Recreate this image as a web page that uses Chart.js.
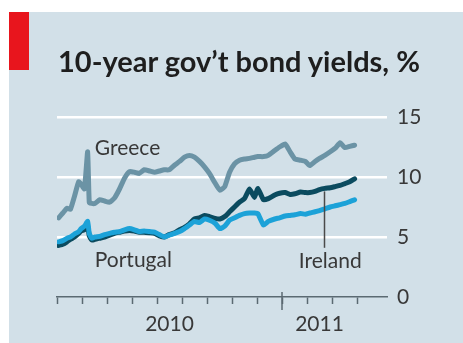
<!DOCTYPE html>
<html>
<head>
<meta charset="utf-8">
<script src="https://cdn.jsdelivr.net/npm/chart.js@4.4.1/dist/chart.umd.min.js"></script>
<style>
html,body{margin:0;padding:0;background:#fff;width:463px;height:343px;overflow:hidden;}
#bg{position:absolute;left:9px;top:12px;width:454px;height:331px;background:#d2e0e8;}
#bar{position:absolute;left:9px;top:12px;width:20px;height:58px;background:#e8151d;}
#title{position:absolute;left:58px;top:46px;font-family:Lato,"Open Sans",sans-serif;font-weight:bold;font-size:29px;line-height:29px;color:#1e1e1e;white-space:nowrap;}
#c{position:absolute;left:0;top:0;}
</style>
</head>
<body>
<div id="bg"></div>
<div id="bar"></div>
<canvas id="c" width="463" height="343"></canvas>
<div id="title">10-year gov’t bond yields, %</div>
<script>
// ---- data ----
const dates = [
 "2010-04-03","2010-04-08","2010-04-13","2010-04-17","2010-04-22","2010-04-27","2010-04-30",
 "2010-05-04","2010-05-08","2010-05-10","2010-05-13","2010-05-17","2010-05-23","2010-05-29",
 "2010-06-04","2010-06-10","2010-06-16","2010-06-22","2010-06-28",
 "2010-07-04","2010-07-10","2010-07-16","2010-07-23","2010-07-29",
 "2010-08-04","2010-08-10","2010-08-16","2010-08-23","2010-08-29",
 "2010-09-04","2010-09-10","2010-09-16","2010-09-22","2010-09-28",
 "2010-10-04","2010-10-11","2010-10-17","2010-10-23","2010-10-29",
 "2010-11-04","2010-11-10","2010-11-16","2010-11-22","2010-11-28",
 "2010-12-02","2010-12-09","2010-12-15","2010-12-23","2010-12-29",
 "2011-01-05","2011-01-11","2011-01-17","2011-01-24","2011-01-30",
 "2011-02-04","2011-02-10","2011-02-15","2011-02-21","2011-02-27",
 "2011-03-05","2011-03-11","2011-03-17","2011-03-23","2011-03-29"
];
const greece = [
 6.6,7.0,7.4,7.3,8.4,9.6,9.4,
 9.0,12.1,7.9,7.8,7.8,8.1,8.0,
 7.9,8.25,9.0,9.9,10.45,
 10.4,10.3,10.6,10.5,10.4,
 10.5,10.6,10.6,11.0,11.3,
 11.65,11.8,11.65,11.3,10.85,
 10.3,9.5,8.9,9.2,10.4,
 11.1,11.4,11.5,11.55,11.65,
 11.7,11.7,11.8,12.2,12.5,
 12.75,12.1,11.5,11.4,11.3,
 10.95,11.3,11.55,11.8,12.1,
 12.4,12.85,12.45,12.55,12.65
];
const ireland = [
 4.3,4.4,4.6,4.8,5.0,5.3,5.5,
 5.6,5.9,5.1,4.75,4.8,4.9,5.0,
 5.15,5.3,5.4,5.5,5.55,
 5.5,5.4,5.4,5.35,5.3,
 5.1,5.0,5.2,5.35,5.6,
 5.8,6.1,6.5,6.6,6.8,
 6.7,6.55,6.5,6.7,7.1,
 7.5,7.9,8.2,9.0,8.3,
 9.05,8.1,8.2,8.5,8.65,
 8.7,8.55,8.6,8.75,8.7,
 8.7,8.8,8.95,9.05,9.1,
 9.2,9.3,9.45,9.6,9.85
];
const portugal = [
 4.6,4.7,4.9,5.0,5.25,5.45,5.7,
 5.9,6.3,5.3,4.9,5.0,5.05,5.2,
 5.3,5.4,5.45,5.6,5.7,
 5.6,5.45,5.5,5.45,5.4,
 5.2,5.0,5.15,5.3,5.45,
 5.7,6.0,6.3,6.2,6.5,
 6.4,6.15,5.7,5.9,6.4,
 6.6,6.8,6.95,7.0,7.0,
 6.95,6.0,6.3,6.5,6.6,
 6.75,6.8,6.85,6.95,6.9,
 7.0,7.1,7.2,7.35,7.5,
 7.6,7.7,7.8,7.95,8.1
];
const yTicks = [0, 5, 10, 15];
const monthTicks = [0,1,2,3,4,5,6,7,8,9,10,11,12]; // Apr 2010 .. Apr 2011
const yearLabels = ["2010", "2011"];
const yearLabelPos = [4.5, 10.5];
const seriesNames = ["Greece", "Ireland", "Portugal"];

// ---- helpers ----
function toMonths(s){
  const [y,m,d] = s.split("-").map(Number);
  const dim = new Date(y, m, 0).getDate();
  return (y-2010)*12 + (m-4) + (d-1)/dim;
}
const xs = dates.map(toMonths);
const pts = arr => arr.map((v,i)=>({x:xs[i], y:v}));

const TXT = "#383838";
const AXIS = "#5b6a72";

const annotations = [
  {text:"Greece",   x:1.51,  y:11.83, align:"left"},
  {text:"Portugal", x:1.51,  y:2.5,   align:"left"},
  {text:"Ireland",  x:10.93, y:2.4,   align:"center"}
];
const leader = {x:10.66, y0:8.8, y1:4.1};
const majorTick = 9; // Jan 2011

const annotPlugin = {
  id:"annot",
  afterDraw(chart){
    const {ctx, scales:{x, y}} = chart;
    ctx.save();
    ctx.font = "21px Lato, 'Open Sans', sans-serif";
    ctx.fillStyle = TXT;
    ctx.textBaseline = "alphabetic";
    annotations.forEach(a=>{
      ctx.textAlign = a.align;
      ctx.fillText(a.text, x.getPixelForValue(a.x), y.getPixelForValue(a.y));
    });
    ctx.strokeStyle = "#4a4a4a";
    ctx.lineWidth = 1.5;
    ctx.beginPath();
    const lx = Math.round(x.getPixelForValue(leader.x))+0.5;
    ctx.moveTo(lx, y.getPixelForValue(leader.y0));
    ctx.lineTo(lx, y.getPixelForValue(leader.y1));
    ctx.stroke();
    // longer year-boundary tick
    const mx = x.getPixelForValue(majorTick);
    const by = y.getPixelForValue(0);
    ctx.strokeStyle = AXIS;
    ctx.beginPath();
    ctx.moveTo(mx, by-5);
    ctx.lineTo(mx, by+13);
    ctx.stroke();
    ctx.restore();
  }
};

const common = {fill:false, pointRadius:0, tension:0.15, borderJoinStyle:"round", borderCapStyle:"round"};

new Chart(document.getElementById("c"), {
  type:"line",
  data:{
    datasets:[
      Object.assign({label:seriesNames[2], data:pts(portugal), borderColor:"#1ca2d8", borderWidth:5, order:0}, common),
      Object.assign({label:seriesNames[1], data:pts(ireland),  borderColor:"#0b4b5f", borderWidth:5, order:1}, common),
      Object.assign({label:seriesNames[0], data:pts(greece),   borderColor:"#6b93a5", borderWidth:5, order:2}, common)
    ]
  },
  options:{
    responsive:false,
    devicePixelRatio:1,
    animation:false,
    events:[],
    layout:{padding:{left:57, top:117, right:0, bottom:0}},
    plugins:{legend:{display:false}, tooltip:{enabled:false}, title:{display:false}},
    scales:{
      x:{
        type:"linear", position:"bottom", min:0, max:13.2, weight:0,
        afterBuildTicks(s){ s.ticks = monthTicks.map(v=>({value:v})); },
        afterFit(s){ s.height = 8; s.paddingLeft = 0; s.paddingRight = 0; },
        ticks:{display:false},
        grid:{drawOnChartArea:false, drawTicks:true, tickLength:7, tickColor:AXIS, tickWidth:1.5},
        border:{display:true, color:AXIS, width:1.5}
      },
      x2:{
        type:"linear", position:"bottom", min:0, max:13.2, weight:1,
        afterBuildTicks(s){ s.ticks = yearLabelPos.map(v=>({value:v})); },
        afterFit(s){ s.height = 38; s.paddingLeft = 0; s.paddingRight = 0; },
        ticks:{
          autoSkip:false, maxRotation:0, padding:7, color:TXT,
          font:{family:"Lato, 'Open Sans', sans-serif", size:21},
          callback(v){ const i = yearLabelPos.indexOf(v); return i>=0 ? yearLabels[i] : ""; }
        },
        grid:{display:false, drawTicks:false},
        border:{display:false}
      },
      y:{
        type:"linear", position:"right", min:0, max:15,
        afterBuildTicks(s){ s.ticks = yTicks.map(v=>({value:v})); },
        afterFit(s){ s.width = 76; },
        ticks:{padding:10, color:TXT, font:{family:"Lato, 'Open Sans', sans-serif", size:21}},
        grid:{color:c=> (c.tick && c.tick.value===0) ? "rgba(0,0,0,0)" : "#ffffff", lineWidth:2.5, drawTicks:false},
        border:{display:false}
      }
    }
  },
  plugins:[annotPlugin]
});
</script>
</body>
</html>
